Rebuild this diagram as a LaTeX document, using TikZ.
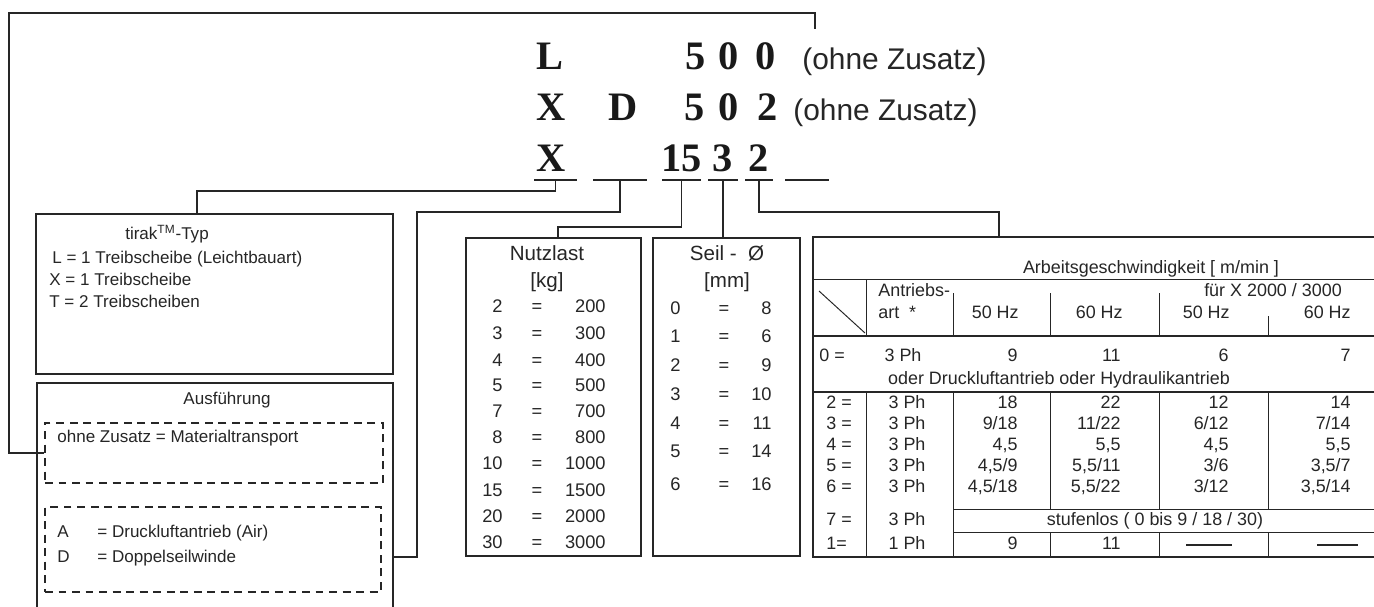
\documentclass[tikz,border=0pt]{standalone}
\usepackage{fontspec}
\setmainfont{Liberation Sans}
\newfontfamily\codefont{Liberation Serif}
\usetikzlibrary{positioning,fit,calc}

% one row of the speed table: y, name, key, drive, four values
\newcommand{\tabrow}[8]{%
  \node[tt, anchor=mid west] (#2k) at (826,#1) {#3};
  \node[tt, anchor=mid] (#2p) at (907,#1) {#4};
  \node[tt, anchor=mid east] (#2a) at (1018,#1) {#5};
  \node[tt, anchor=mid east] (#2b) at (1121,#1) {#6};
  \node[tt, anchor=mid east] (#2c) at (1229,#1) {#7};
  \node[tt, anchor=mid east] (#2d) at (1351,#1) {#8};
}

\begin{document}
\begin{tikzpicture}[
    x=0.02cm, y=-0.02cm,
    box/.style={
        draw=black!85,
        line width=1.6pt,
        inner sep=0pt
    },
    dbox/.style={
        draw=black!85,
        line width=0.9pt,
        dash pattern=on 4.5pt off 3.2pt,
        inner sep=0pt
    },
    conn/.style={draw=black!85, line width=1.1pt},
    uline/.style={draw=black!85, line width=1.4pt},
    grid/.style={draw=black!85, line width=0.55pt},
    gridb/.style={draw=black!85, line width=0.9pt},
    code/.style={font=\codefont\bfseries\fontsize{23}{23}\selectfont, text=black!90, inner sep=0pt, anchor=base},
    zus/.style={font=\fontsize{17}{17}\selectfont, text=black!85, inner sep=0pt, anchor=base west},
    lt/.style={font=\fontsize{9.7}{11}\selectfont, text=black!85, inner sep=0pt, anchor=mid west},
    hd/.style={font=\fontsize{11.7}{13}\selectfont, text=black!85, inner sep=0pt, anchor=mid},
    num/.style={font=\fontsize{10.4}{12}\selectfont, text=black!85, inner sep=0pt},
    tt/.style={font=\fontsize{10.2}{12}\selectfont, text=black!85, inner sep=0pt}
]
\path[use as bounding box, fill=white] (0,0) rectangle (1374,606);

% type code, three examples
\node[code] (cL) at (550,69) {L};
\node[code] (c5a) at (695.5,69) {5};
\node[code] (c0a) at (728.5,69) {0};
\node[code] (c0b) at (765.5,69) {0};
\node[zus] (zus1) at (802,69) {(ohne Zusatz)};

\node[code] (cX) at (551,120) {X};
\node[code] (cD) at (623.5,120) {D};
\node[code] (c5b) at (694.5,120) {5};
\node[code] (c0c) at (728.5,120) {0};
\node[code] (c2a) at (767.5,120) {2};
\node[zus] (zus2) at (793,120) {(ohne Zusatz)};

\node[code] (cXb) at (551,171) {X};
\node[code] (c15) at (681.5,171) {15};
\node[code] (c3) at (723,171) {3};
\node[code] (c2b) at (759,171) {2};

% code slots
\foreach \a/\b/\n in {534/577/1, 593/647/2, 662/701/3, 708/738/4, 745/773/5, 785/829/6} {
  \draw[uline] (\a,180) -- (\b,180);
  \coordinate (u\n) at ({(\a+\b)/2},180);
}

% boxes
\node[box, fit={(36,214) (393,374)}] (tirak) {};
\node[box, fit={(37,383) (393,630)}] (ausf) {};
\node[dbox, fit={(45,423) (383,483)}] (ohne) {};
\node[dbox, fit={(45,507) (381,592)}] (zusatz) {};
\node[box, fit={(466,238) (641,556)}] (nutz) {};
\node[box, fit={(653,238) (800,556)}] (seil) {};
\node[box, fit={(813,237) (1400,557)}] (tab) {};

% tirak type
\node[lt, anchor=mid] (tiTitle) at (167,235) {tirak\textsuperscript{TM}-Typ};
\node[lt] (tiL) at (52,259) {L = 1 Treibscheibe (Leichtbauart)};
\node[lt] (tiX) at (49,281) {X = 1 Treibscheibe};
\node[lt] (tiT) at (49,303) {T = 2 Treibscheiben};

% version
\node[lt, anchor=mid] (auTitle) at (227,400) {Ausführung};
\node[lt] (auOhne) at (57,438) {ohne Zusatz = Materialtransport};
\node[lt] (auA) at (57,533) {A};
\node[lt] (auAtxt) at (97,533) {= Druckluftantrieb (Air)};
\node[lt] (auD) at (57,558) {D};
\node[lt] (auDtxt) at (97,558) {= Doppelseilwinde};

% load
\node[hd] (nuTitle) at (547,256) {Nutzlast};
\node[hd] (nuUnit) at (547,283) {[kg]};
\foreach \k/\v/\y in {2/200/308, 3/300/335, 4/400/362, 5/500/387, 7/700/413,
                      8/800/439, 10/1000/465, 15/1500/492, 20/2000/518, 30/3000/544} {
  \node[num, anchor=mid east] (nk\k) at (503,\y) {\k};
  \node[num, anchor=mid] (ne\k) at (537,\y) {=};
  \node[num, anchor=mid east] (nv\k) at (606,\y) {\v};
}

% rope
\node[hd] (seTitle) at (727,256) {Seil -\ \ Ø};
\node[hd] (seUnit) at (727,283) {[mm]};
\foreach \k/\v/\y in {0/8/310, 1/6/338, 2/9/367, 3/10/396, 4/11/425, 5/14/453, 6/16/486} {
  \node[num, anchor=mid west] (sk\k) at (670,\y) {\k};
  \node[num, anchor=mid] (se\k) at (724,\y) {=};
  \node[num, anchor=mid east] (sv\k) at (772,\y) {\v};
}

% speed table: header
\node[tt, anchor=mid] (taTitle) at (1151,269) {Arbeitsgeschwindigkeit [ m/min ]};
\draw[grid] (813,279) -- (1400,279);
\draw[grid] (819,291) -- (865,333);
\node[tt, anchor=mid west] (taAnt) at (878,292) {Antriebs-};
\node[tt, anchor=mid west] (taArt) at (878,314) {art\ \ *};
\node[tt, anchor=mid] (taFuer) at (1273,292) {für X 2000 / 3000};
\node[tt, anchor=mid east] (taH1) at (1019,314) {50 Hz};
\node[tt, anchor=mid east] (taH2) at (1123,314) {60 Hz};
\node[tt, anchor=mid east] (taH3) at (1230,314) {50 Hz};
\node[tt, anchor=mid east] (taH4) at (1351,314) {60 Hz};
\draw[grid] (866.6,279) -- (866.6,336);
\draw[grid] (953,293) -- (953,336);
\draw[grid] (1050.6,293) -- (1050.6,336);
\draw[grid] (1159,293) -- (1159,336);
\draw[grid] (1268,316) -- (1268,336);
\draw[gridb] (813,336) -- (1400,336);

% speed table: rows
\node[tt, anchor=mid west] (r0k) at (819,357) {0 =};
\node[tt, anchor=mid] (r0p) at (903,357) {3 Ph};
\node[tt, anchor=mid east] (r0a) at (1018,357) {9};
\node[tt, anchor=mid east] (r0b) at (1121,357) {11};
\node[tt, anchor=mid east] (r0c) at (1229,357) {6};
\node[tt, anchor=mid east] (r0d) at (1351,357) {7};
\node[tt, anchor=mid] (r0t) at (1059,380) {oder Druckluftantrieb oder Hydraulikantrieb};
\draw[gridb] (813,392) -- (1400,392);

\tabrow{404}{r2}{2 =}{3 Ph}{18}{22}{12}{14}
\tabrow{425}{r3}{3 =}{3 Ph}{9/18}{11/22}{6/12}{7/14}
\tabrow{446}{r4}{4 =}{3 Ph}{4,5}{5,5}{4,5}{5,5}
\tabrow{467}{r5}{5 =}{3 Ph}{4,5/9}{5,5/11}{3/6}{3,5/7}
\tabrow{488}{r6}{6 =}{3 Ph}{4,5/18}{5,5/22}{3/12}{3,5/14}

\node[tt, anchor=mid west] (r7k) at (826,521) {7 =};
\node[tt, anchor=mid] (r7p) at (907,521) {3 Ph};
\node[tt, anchor=mid] (r7t) at (1155,521) {stufenlos ( 0 bis 9 / 18 / 30)};

\node[tt, anchor=mid west] (r1k) at (826,545) {1=};
\node[tt, anchor=mid] (r1p) at (907,545) {1 Ph};
\node[tt, anchor=mid east] (r1a) at (1018,545) {9};
\node[tt, anchor=mid east] (r1b) at (1121,545) {11};
\draw[gridb] (1186,545) -- (1232,545);
\draw[gridb] (1317,545) -- (1358,545);

\draw[grid] (866.6,392) -- (866.6,557);
\draw[grid] (953,392) -- (953,557);
\foreach \x in {1050.6,1159,1268} {
  \draw[grid] (\x,392) -- (\x,509);
  \draw[grid] (\x,532) -- (\x,557);
}
\draw[grid] (953,509) -- (1400,509);
\draw[grid] (953,532) -- (1400,532);

% connectors from the code slots
\coordinate (corner) at (9,13);
\coordinate (tick) at (815,29);
\coordinate (bend2) at (417,212);
\coordinate (ausfIn) at ($(ausf.north east)+(0,175)$);
\draw[conn] (u1) -- ++(0,11) -| ($(tirak.north west)!0.451!(tirak.north east)$);
\draw[conn] (u2) |- (bend2) |- (ausfIn);
\draw[conn] (u3) -- ++(0,47) -| ($(nutz.north west)!0.526!(nutz.north east)$);
\draw[conn] (u4) -- (u4 |- seil.north);
\draw[conn] (u5) -- ++(0,32) -| ($(tab.north west)+(187,0)$);
\draw[conn] (ohne.west) -| (corner) -| (tick);

\end{tikzpicture}
\end{document}
